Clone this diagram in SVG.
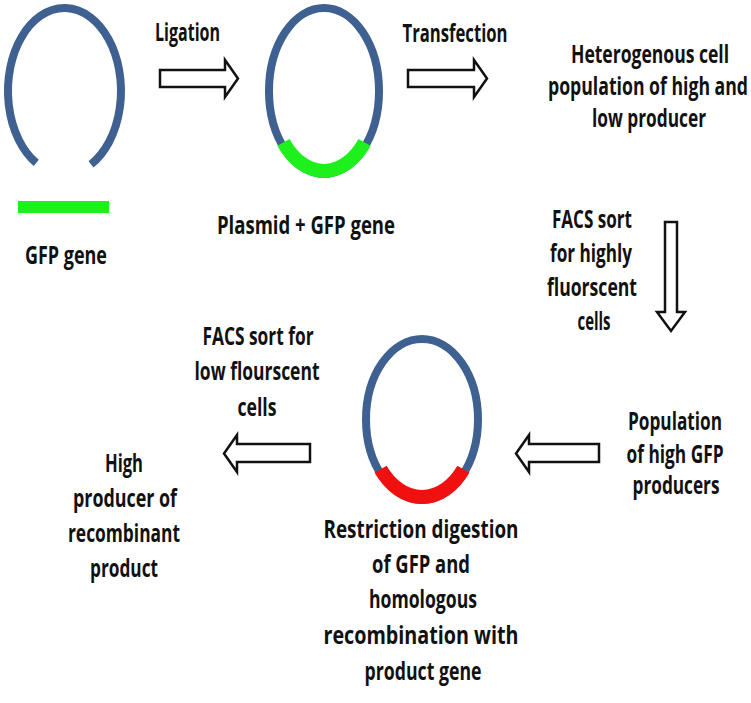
<svg xmlns="http://www.w3.org/2000/svg" width="751" height="703" viewBox="0 0 751 703">
<style>
text{font-family:"Open Sans","Liberation Sans",Arial,sans-serif;font-weight:700;font-size:17px;fill:#111;text-anchor:middle}
.ring{fill:none;stroke:#3E6191;stroke-width:8}
.gfp{fill:none;stroke:#1EF01E;stroke-width:14}
.red{fill:none;stroke:#F01010;stroke-width:14}
.arrow{fill:#fff;stroke:#111;stroke-width:2.5;stroke-linejoin:miter}
</style>
<rect width="751" height="703" fill="#fff"/>
<g id="open-plasmid">
<path class="ring" d="M 91 164.3 A 56.5 83 0 1 0 36.25 162.9"/>
</g>
<g id="gfp-gene">
<rect x="18" y="201" width="91" height="12" fill="#1EF01E"/>
<g transform="scale(1,1.5)">
<text x="66" y="176" textLength="82" lengthAdjust="spacingAndGlyphs">GFP gene</text>
</g>
</g>
<g id="plasmid-gfp">
<ellipse class="ring" cx="324" cy="91" rx="55" ry="83"/>
<path class="gfp" d="M 364.6 142.4 A 53 80 0 0 1 283.4 142.4"/>
<g transform="scale(1,1.5)">
<text x="306" y="156" textLength="178" lengthAdjust="spacingAndGlyphs">Plasmid + GFP gene</text>
</g>
</g>
<g id="heterogenous">
<g transform="scale(1,1.5)">
<text x="650" y="42" textLength="158" lengthAdjust="spacingAndGlyphs">Heterogenous cell</text>
<text x="648" y="63.333" textLength="200" lengthAdjust="spacingAndGlyphs">population of high and</text>
<text x="649" y="84.667" textLength="114" lengthAdjust="spacingAndGlyphs">low producer</text>
</g>
</g>
<g id="high-gfp-population">
<g transform="scale(1,1.5)">
<text x="675" y="286.667" textLength="94" lengthAdjust="spacingAndGlyphs">Population</text>
<text x="675" y="308.667" textLength="97" lengthAdjust="spacingAndGlyphs">of high GFP</text>
<text x="676" y="329.333" textLength="87" lengthAdjust="spacingAndGlyphs">producers</text>
</g>
</g>
<g id="plasmid-product">
<ellipse class="ring" cx="422" cy="419.5" rx="56" ry="80.5"/>
<path class="red" d="M 463.4 469.3 A 54 77.5 0 0 1 380.6 469.3"/>
<g transform="scale(1,1.5)">
<text x="421" y="358.667" textLength="195" lengthAdjust="spacingAndGlyphs">Restriction digestion</text>
<text x="421" y="382" textLength="98" lengthAdjust="spacingAndGlyphs">of GFP and</text>
<text x="423" y="405.333" textLength="108" lengthAdjust="spacingAndGlyphs">homologous</text>
<text x="421" y="429.333" textLength="195" lengthAdjust="spacingAndGlyphs">recombination with</text>
<text x="423" y="453.333" textLength="117" lengthAdjust="spacingAndGlyphs">product gene</text>
</g>
</g>
<g id="high-producer">
<g transform="scale(1,1.5)">
<text x="124" y="314.667" textLength="38" lengthAdjust="spacingAndGlyphs">High</text>
<text x="125" y="338" textLength="104" lengthAdjust="spacingAndGlyphs">producer of</text>
<text x="124" y="361.333" textLength="112" lengthAdjust="spacingAndGlyphs">recombinant</text>
<text x="124" y="384.667" textLength="68" lengthAdjust="spacingAndGlyphs">product</text>
</g>
</g>
<g id="connectors">
<polygon class="arrow" points="160,70 225,70 225,60 238,78.5 225,97 225,87 160,87"/>
<polygon class="arrow" points="408,70 474,70 474,60 487,78.5 474,97 474,87 408,87"/>
<polygon class="arrow" points="665,222 677,222 677,312 685,312 671,331 657,312 665,312"/>
<polygon class="arrow" points="599,444 529,444 529,435 516,453.5 529,472 529,462 599,462"/>
<polygon class="arrow" points="310,444 237,444 237,435 224,453.5 237,472 237,462 310,462"/>
<g transform="scale(1,1.5)">
<text x="187.5" y="27.333" textLength="65" lengthAdjust="spacingAndGlyphs">Ligation</text>
<text x="455" y="28" textLength="105" lengthAdjust="spacingAndGlyphs">Transfection</text>
<text x="592" y="152" textLength="80" lengthAdjust="spacingAndGlyphs">FACS sort</text>
<text x="591" y="174.667" textLength="82" lengthAdjust="spacingAndGlyphs">for highly</text>
<text x="592" y="197.333" textLength="90" lengthAdjust="spacingAndGlyphs">fluorscent</text>
<text x="594" y="220" textLength="33" lengthAdjust="spacingAndGlyphs">cells</text>
<text x="258" y="230" textLength="111" lengthAdjust="spacingAndGlyphs">FACS sort for</text>
<text x="257" y="253.333" textLength="125" lengthAdjust="spacingAndGlyphs">low flourscent</text>
<text x="257" y="277.333" textLength="39" lengthAdjust="spacingAndGlyphs">cells</text>
</g>
</g>
</svg>
